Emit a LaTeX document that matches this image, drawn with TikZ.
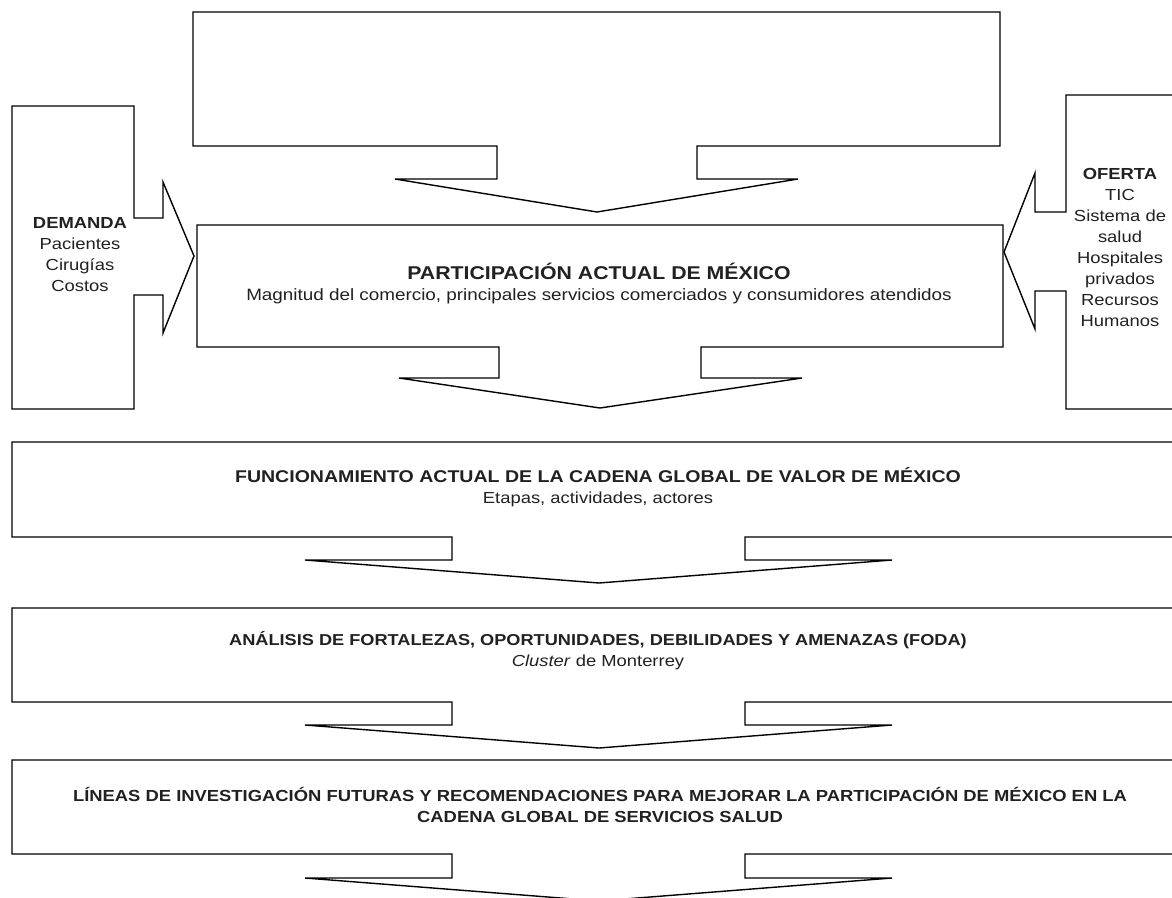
\documentclass[tikz,border=0pt]{standalone}
\usepackage{fontspec}
\setmainfont{Liberation Sans}[FakeStretch=1.15]
\begin{document}
\begin{tikzpicture}[x=1pt,y=-1pt,
  shapeline/.style={draw=black,line width=1.4pt,line join=miter,fill=white},
  txt/.style={align=center,inner sep=0pt,text=black!87,font=\fontsize{16}{21}\selectfont}]
\useasboundingbox (0,0) rectangle (1172,897);
\clip (0,0) rectangle (1172,897);
% top empty callout box
\draw[shapeline] (193,12) -- (1000,12) -- (1000,146) -- (697,146) -- (697,179) -- (798,179)
  -- (597,212) -- (395,179) -- (497,179) -- (497,146) -- (193,146) -- cycle;
% demand callout (right arrow)
\draw[shapeline] (12,106) -- (134,106) -- (134,218) -- (163,218) -- (163,182) -- (194,256)
  -- (163,333) -- (163,295) -- (134,295) -- (134,409) -- (12,409) -- cycle;
% offer callout (left arrow)
\draw[shapeline] (1066,95) -- (1185,95) -- (1185,409) -- (1066,409) -- (1066,291) -- (1035,291)
  -- (1035,329) -- (1004,252) -- (1035,173) -- (1035,212) -- (1066,212) -- cycle;
% middle callout
\draw[shapeline] (197,225) -- (1003,225) -- (1003,347) -- (701,347) -- (701,378) -- (802,378)
  -- (600,408) -- (399,378) -- (499,378) -- (499,347) -- (197,347) -- cycle;
% lower full-width callouts
\foreach \t/\b/\s/\p in {442/537/560/583, 608/702/725/748, 760/854/878/901}{
  \draw[shapeline] (12,\t) -- (1185,\t) -- (1185,\b) -- (745,\b) -- (745,\s) -- (892,\s)
    -- (599,\p) -- (305,\s) -- (452,\s) -- (452,\b) -- (12,\b) -- cycle;
}
% texts
\node[txt] (dem) at (80,255) {\textbf{DEMANDA}\\Pacientes\\Cirugías\\Costos};
\node[txt] (ofe) at (1120,247) {\textbf{OFERTA}\\TIC\\Sistema de\\salud\\Hospitales\\privados\\Recursos\\Humanos};
\node[txt] (par) at (599,283) {{\fontsize{18.5}{21}\selectfont\textbf{PARTICIPACIÓN ACTUAL DE MÉXICO}}\\{\fontsize{16.4}{21}\selectfont Magnitud del comercio, principales servicios comerciados y consumidores atendidos}};
\node[txt] (fun) at (598,487) {{\fontsize{17}{21}\selectfont\textbf{FUNCIONAMIENTO ACTUAL DE LA CADENA GLOBAL DE VALOR DE MÉXICO}}\\Etapas, actividades, actores};
\node[txt] (fod) at (598,651) {{\fontsize{15.8}{21}\selectfont\textbf{ANÁLISIS DE FORTALEZAS, OPORTUNIDADES, DEBILIDADES Y AMENAZAS (FODA)}}\\\textit{Cluster} de Monterrey};
\node[txt] (lin) at (600,805) {\textbf{LÍNEAS DE INVESTIGACIÓN FUTURAS Y RECOMENDACIONES PARA MEJORAR LA PARTICIPACIÓN DE MÉXICO EN LA}\\\textbf{CADENA GLOBAL DE SERVICIOS SALUD}};
\end{tikzpicture}
\end{document}
